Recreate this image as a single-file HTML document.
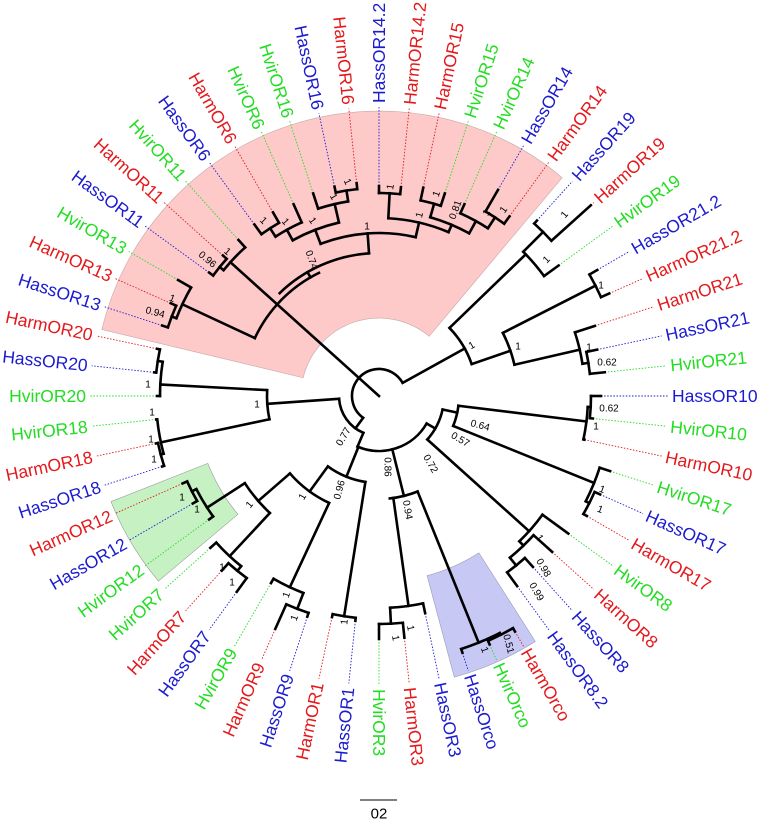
<!DOCTYPE html>
<html><head><meta charset="utf-8"><style>
html,body{margin:0;padding:0;background:#fff;}
svg{display:block;}
.b line,.b circle{stroke:#000;stroke-width:2.6;fill:none;stroke-linecap:square;}
.d line{stroke-width:0.9;stroke-dasharray:1.5 1.6;}
.lab text{font-family:"Liberation Sans",Arial,sans-serif;font-size:17.5px;dominant-baseline:central;}
.r{fill:#e3191c;} .u{fill:#1b1bd0;} .g{fill:#22dd22;}
.s text{font-family:"Liberation Sans",Arial,sans-serif;font-size:10px;fill:#000;text-anchor:middle;dominant-baseline:central;}
</style></head><body>
<svg width="763" height="822" viewBox="0 0 763 822" xmlns="http://www.w3.org/2000/svg">
<g transform="translate(379 396)">
<!-- shaded sectors -->
<path d="M -277.1,-66.5 A285 285 0 0 1 183.2,-218.3 L 50.1,-59.7 A78 78 0 0 0 -75.8,-18.2 Z" fill="#fdc9c9" stroke="#c8a8a8" stroke-width="0.6"/>
<path d="M -141,118.3 L-220.6,185.1 A288 288 0 0 1 -268,105.6 L-171.2,67.4 A184 184 0 0 0 -141,118.3 Z" fill="#c6f2c3" stroke="#9a9a9a" stroke-width="0.6"/>
<path d="M 99.9,156.9 L156.3,245.4 A291 291 0 0 1 75.3,281.1 L48.1,179.7 A186 186 0 0 0 99.9,156.9 Z" fill="#c8c8f5" stroke="#9a9ab8" stroke-width="0.6"/>

<!-- dotted leader lines -->
<g class="d">
<line x1="222" x2="289" transform="rotate(180)" stroke="#22dd22"/>
<line x1="226" x2="289" transform="rotate(186)" stroke="#1b1bd0"/>
<line x1="227" x2="289" transform="rotate(192)" stroke="#e3191c"/>
<line x1="228" x2="289" transform="rotate(198)" stroke="#1b1bd0"/>
<line x1="228" x2="289" transform="rotate(204)" stroke="#e3191c"/>
<line x1="232" x2="289" transform="rotate(210)" stroke="#22dd22"/>
<line x1="210" x2="289" transform="rotate(216)" stroke="#1b1bd0"/>
<line x1="210" x2="289" transform="rotate(222)" stroke="#e3191c"/>
<line x1="210" x2="289" transform="rotate(228)" stroke="#22dd22"/>
<line x1="212" x2="289" transform="rotate(234)" stroke="#1b1bd0"/>
<line x1="212" x2="289" transform="rotate(240)" stroke="#e3191c"/>
<line x1="210" x2="289" transform="rotate(246)" stroke="#22dd22"/>
<line x1="213" x2="289" transform="rotate(252)" stroke="#22dd22"/>
<line x1="214" x2="289" transform="rotate(258)" stroke="#1b1bd0"/>
<line x1="214" x2="289" transform="rotate(264)" stroke="#e3191c"/>
<line x1="210" x2="289" transform="rotate(270)" stroke="#1b1bd0"/>
<line x1="210" x2="289" transform="rotate(276)" stroke="#e3191c"/>
<line x1="213" x2="289" transform="rotate(282)" stroke="#e3191c"/>
<line x1="213" x2="289" transform="rotate(288)" stroke="#22dd22"/>
<line x1="210" x2="289" transform="rotate(294)" stroke="#22dd22"/>
<line x1="238" x2="289" transform="rotate(300)" stroke="#1b1bd0"/>
<line x1="222" x2="289" transform="rotate(306)" stroke="#e3191c"/>
<line x1="236" x2="289" transform="rotate(312)" stroke="#1b1bd0"/>
<line x1="285" x2="289" transform="rotate(318)" stroke="#e3191c"/>
<line x1="222" x2="289" transform="rotate(324)" stroke="#22dd22"/>
<line x1="252" x2="289" transform="rotate(330)" stroke="#1b1bd0"/>
<line x1="252" x2="289" transform="rotate(336)" stroke="#e3191c"/>
<line x1="227" x2="289" transform="rotate(342)" stroke="#e3191c"/>
<line x1="223" x2="289" transform="rotate(348)" stroke="#1b1bd0"/>
<line x1="227" x2="289" transform="rotate(354)" stroke="#22dd22"/>
<line x1="222" x2="289" transform="rotate(0)" stroke="#1b1bd0"/>
<line x1="215" x2="289" transform="rotate(6)" stroke="#22dd22"/>
<line x1="210" x2="289" transform="rotate(12)" stroke="#e3191c"/>
<line x1="243" x2="289" transform="rotate(18)" stroke="#22dd22"/>
<line x1="242" x2="289" transform="rotate(24)" stroke="#1b1bd0"/>
<line x1="240" x2="289" transform="rotate(30)" stroke="#e3191c"/>
<line x1="234" x2="289" transform="rotate(36)" stroke="#22dd22"/>
<line x1="233" x2="289" transform="rotate(42)" stroke="#e3191c"/>
<line x1="230" x2="289" transform="rotate(48)" stroke="#1b1bd0"/>
<line x1="235" x2="289" transform="rotate(54)" stroke="#1b1bd0"/>
<line x1="272" x2="289" transform="rotate(60)" stroke="#e3191c"/>
<line x1="272" x2="289" transform="rotate(66)" stroke="#22dd22"/>
<line x1="270" x2="289" transform="rotate(72)" stroke="#1b1bd0"/>
<line x1="222" x2="289" transform="rotate(78)" stroke="#1b1bd0"/>
<line x1="243" x2="289" transform="rotate(84)" stroke="#e3191c"/>
<line x1="243" x2="289" transform="rotate(90)" stroke="#22dd22"/>
<line x1="226" x2="289" transform="rotate(96)" stroke="#1b1bd0"/>
<line x1="226" x2="289" transform="rotate(102)" stroke="#e3191c"/>
<line x1="232" x2="289" transform="rotate(108)" stroke="#1b1bd0"/>
<line x1="255" x2="289" transform="rotate(114)" stroke="#e3191c"/>
<line x1="216" x2="289" transform="rotate(120)" stroke="#22dd22"/>
<line x1="242" x2="289" transform="rotate(126)" stroke="#1b1bd0"/>
<line x1="235" x2="289" transform="rotate(132)" stroke="#e3191c"/>
<line x1="227" x2="289" transform="rotate(138)" stroke="#22dd22"/>
<line x1="210" x2="289" transform="rotate(144)" stroke="#22dd22"/>
<line x1="215" x2="289" transform="rotate(150)" stroke="#1b1bd0"/>
<line x1="215" x2="289" transform="rotate(156)" stroke="#e3191c"/>
<line x1="228" x2="289" transform="rotate(162)" stroke="#1b1bd0"/>
<line x1="228" x2="289" transform="rotate(168)" stroke="#e3191c"/>
<line x1="224" x2="289" transform="rotate(174)" stroke="#22dd22"/>
</g>

<!-- branches -->
<g class="b">
<!-- root -->
<circle r="27" pathLength="360" stroke-dasharray="205 400" transform="rotate(126)"/>
<line x1="0" x2="200" transform="rotate(222)"/>
<!-- pink clade -->
<circle r="137" pathLength="360" stroke-dasharray="39 400" transform="rotate(205)"/>
<circle r="143" pathLength="360" stroke-dasharray="40 400" transform="rotate(226)"/>
<line x1="137" x2="143" transform="rotate(240)"/>
<line x1="137" x2="217" transform="rotate(205)"/>
<circle r="217" pathLength="360" stroke-dasharray="9 400" transform="rotate(201)"/>
<line x1="217" x2="232" transform="rotate(210)"/>
<line x1="217" x2="222" transform="rotate(201)"/>
<circle r="222" pathLength="360" stroke-dasharray="6 400" transform="rotate(198)"/>
<line x1="222" x2="228" transform="rotate(198)"/>
<line x1="222" x2="228" transform="rotate(204)"/>
<circle r="200" pathLength="360" stroke-dasharray="9 400" transform="rotate(219)"/>
<line x1="200" x2="210" transform="rotate(228)"/>
<line x1="200" x2="205" transform="rotate(219)"/>
<circle r="205" pathLength="360" stroke-dasharray="6 400" transform="rotate(216)"/>
<line x1="205" x2="210" transform="rotate(216)"/>
<line x1="205" x2="210" transform="rotate(222)"/>
<line x1="143" x2="163" transform="rotate(266)"/>
<circle r="163" pathLength="360" stroke-dasharray="34 400" transform="rotate(249)"/>
<line x1="163" x2="178" transform="rotate(249)"/>
<circle r="178" pathLength="360" stroke-dasharray="16 400" transform="rotate(241)"/>
<line x1="178" x2="197" transform="rotate(257)"/>
<circle r="197" pathLength="360" stroke-dasharray="9 400" transform="rotate(252)"/>
<line x1="197" x2="213" transform="rotate(252)"/>
<line x1="197" x2="208" transform="rotate(261)"/>
<circle r="208" pathLength="360" stroke-dasharray="6 400" transform="rotate(258)"/>
<line x1="208" x2="214" transform="rotate(258)"/>
<line x1="208" x2="214" transform="rotate(264)"/>
<line x1="178" x2="190" transform="rotate(241)"/>
<circle r="190" pathLength="360" stroke-dasharray="9 400" transform="rotate(237)"/>
<line x1="190" x2="210" transform="rotate(246)"/>
<line x1="190" x2="200" transform="rotate(237)"/>
<circle r="200" pathLength="360" stroke-dasharray="6 400" transform="rotate(234)"/>
<line x1="200" x2="212" transform="rotate(234)"/>
<line x1="200" x2="212" transform="rotate(240)"/>
<line x1="163" x2="178" transform="rotate(283)"/>
<circle r="178" pathLength="360" stroke-dasharray="20 400" transform="rotate(273)"/>
<line x1="178" x2="203" transform="rotate(273)"/>
<circle r="203" pathLength="360" stroke-dasharray="6 400" transform="rotate(270)"/>
<line x1="203" x2="210" transform="rotate(270)"/>
<line x1="203" x2="210" transform="rotate(276)"/>
<line x1="178" x2="186" transform="rotate(293)"/>
<circle r="186" pathLength="360" stroke-dasharray="13 400" transform="rotate(286)"/>
<line x1="186" x2="200" transform="rotate(286)"/>
<circle r="200" pathLength="360" stroke-dasharray="6 400" transform="rotate(282)"/>
<line x1="200" x2="213" transform="rotate(282)"/>
<line x1="200" x2="213" transform="rotate(288)"/>
<line x1="186" x2="200" transform="rotate(299)"/>
<circle r="200" pathLength="360" stroke-dasharray="9 400" transform="rotate(294)"/>
<line x1="200" x2="210" transform="rotate(294)"/>
<line x1="200" x2="213" transform="rotate(303)"/>
<circle r="213" pathLength="360" stroke-dasharray="6 400" transform="rotate(300)"/>
<line x1="213" x2="238" transform="rotate(300)"/>
<line x1="213" x2="222" transform="rotate(306)"/>
<!-- OR19 / OR21 -->
<line x1="27" x2="98" transform="rotate(331)"/>
<circle r="98" pathLength="360" stroke-dasharray="25 400" transform="rotate(316)"/>
<line x1="98" x2="204" transform="rotate(316)"/>
<circle r="204" pathLength="360" stroke-dasharray="9 400" transform="rotate(315)"/>
<line x1="204" x2="222" transform="rotate(324)"/>
<line x1="204" x2="232" transform="rotate(315)"/>
<circle r="232" pathLength="360" stroke-dasharray="6 400" transform="rotate(312)"/>
<line x1="232" x2="236" transform="rotate(312)"/>
<line x1="232" x2="285" transform="rotate(318)"/>
<line x1="98" x2="139" transform="rotate(341)"/>
<circle r="139" pathLength="360" stroke-dasharray="14 400" transform="rotate(333)"/>
<line x1="139" x2="243" transform="rotate(333)"/>
<circle r="243" pathLength="360" stroke-dasharray="6 400" transform="rotate(330)"/>
<line x1="243" x2="252" transform="rotate(330)"/>
<line x1="243" x2="252" transform="rotate(336)"/>
<line x1="139" x2="206" transform="rotate(347)"/>
<circle r="206" pathLength="360" stroke-dasharray="9 400" transform="rotate(342)"/>
<line x1="206" x2="227" transform="rotate(342)"/>
<line x1="206" x2="212" transform="rotate(351)"/>
<circle r="212" pathLength="360" stroke-dasharray="6 400" transform="rotate(348)"/>
<line x1="212" x2="223" transform="rotate(348)"/>
<line x1="212" x2="227" transform="rotate(354)"/>
<!-- 0.77 node -->
<line x1="27" x2="40" transform="rotate(126)"/>
<circle r="40" pathLength="360" stroke-dasharray="63 400" transform="rotate(113)"/>
<line x1="40" x2="112" transform="rotate(176)"/>
<circle r="112" pathLength="360" stroke-dasharray="15 400" transform="rotate(168)"/>
<line x1="112" x2="219" transform="rotate(183)"/>
<circle r="219" pathLength="360" stroke-dasharray="9 400" transform="rotate(180)"/>
<line x1="219" x2="222" transform="rotate(180)"/>
<line x1="219" x2="224" transform="rotate(189)"/>
<circle r="224" pathLength="360" stroke-dasharray="6 400" transform="rotate(186)"/>
<line x1="224" x2="226" transform="rotate(186)"/>
<line x1="224" x2="227" transform="rotate(192)"/>
<line x1="112" x2="223" transform="rotate(168)"/>
<circle r="223" pathLength="360" stroke-dasharray="9 400" transform="rotate(165)"/>
<line x1="223" x2="224" transform="rotate(174)"/>
<line x1="223" x2="226" transform="rotate(165)"/>
<circle r="226" pathLength="360" stroke-dasharray="6 400" transform="rotate(162)"/>
<line x1="226" x2="228" transform="rotate(162)"/>
<line x1="226" x2="228" transform="rotate(168)"/>
<!-- 0.86 node -->
<line x1="40" x2="55" transform="rotate(113)"/>
<circle r="55" pathLength="360" stroke-dasharray="83 400" transform="rotate(30)"/>
<line x1="55" x2="87" transform="rotate(112)"/>
<circle r="87" pathLength="360" stroke-dasharray="27 400" transform="rotate(99)"/>
<line x1="87" x2="223" transform="rotate(99)"/>
<circle r="223" pathLength="360" stroke-dasharray="6 400" transform="rotate(96)"/>
<line x1="223" x2="226" transform="rotate(96)"/>
<line x1="223" x2="226" transform="rotate(102)"/>
<line x1="87" x2="118" transform="rotate(126)"/>
<circle r="118" pathLength="360" stroke-dasharray="24 400" transform="rotate(115)"/>
<line x1="118" x2="211" transform="rotate(115)"/>
<circle r="211" pathLength="360" stroke-dasharray="9 400" transform="rotate(111)"/>
<line x1="211" x2="216" transform="rotate(120)"/>
<line x1="211" x2="228" transform="rotate(111)"/>
<circle r="228" pathLength="360" stroke-dasharray="6 400" transform="rotate(108)"/>
<line x1="228" x2="232" transform="rotate(108)"/>
<line x1="228" x2="255" transform="rotate(114)"/>
<line x1="118" x2="160" transform="rotate(139)"/>
<circle r="160" pathLength="360" stroke-dasharray="14 400" transform="rotate(133)"/>
<line x1="160" x2="205" transform="rotate(147)"/>
<circle r="205" pathLength="360" stroke-dasharray="9 400" transform="rotate(144)"/>
<line x1="205" x2="210" transform="rotate(144)"/>
<line x1="205" x2="210" transform="rotate(153)"/>
<circle r="210" pathLength="360" stroke-dasharray="6 400" transform="rotate(150)"/>
<line x1="210" x2="215" transform="rotate(150)"/>
<line x1="210" x2="215" transform="rotate(156)"/>
<line x1="160" x2="219" transform="rotate(133)"/>
<circle r="219" pathLength="360" stroke-dasharray="9 400" transform="rotate(129)"/>
<line x1="219" x2="227" transform="rotate(138)"/>
<line x1="219" x2="225" transform="rotate(129)"/>
<circle r="225" pathLength="360" stroke-dasharray="6 400" transform="rotate(126)"/>
<line x1="225" x2="242" transform="rotate(126)"/>
<line x1="225" x2="235" transform="rotate(132)"/>
<!-- 0.94 node -->
<line x1="55" x2="103" transform="rotate(76)"/>
<circle r="103" pathLength="360" stroke-dasharray="16 400" transform="rotate(68)"/>
<line x1="103" x2="212" transform="rotate(82)"/>
<circle r="212" pathLength="360" stroke-dasharray="9 400" transform="rotate(78)"/>
<line x1="212" x2="222" transform="rotate(78)"/>
<line x1="212" x2="228" transform="rotate(87)"/>
<circle r="228" pathLength="360" stroke-dasharray="6 400" transform="rotate(84)"/>
<line x1="228" x2="243" transform="rotate(84)"/>
<line x1="228" x2="243" transform="rotate(90)"/>
<line x1="103" x2="266" transform="rotate(68)"/>
<circle r="266" pathLength="360" stroke-dasharray="9 400" transform="rotate(63)"/>
<line x1="266" x2="270" transform="rotate(72)"/>
<line x1="266" x2="268" transform="rotate(63)"/>
<circle r="268" pathLength="360" stroke-dasharray="6 400" transform="rotate(60)"/>
<line x1="268" x2="272" transform="rotate(60)"/>
<line x1="268" x2="272" transform="rotate(66)"/>
<!-- 0.72 node -->
<line x1="55" x2="65" transform="rotate(30)"/>
<circle r="65" pathLength="360" stroke-dasharray="30 400" transform="rotate(12)"/>
<line x1="65" x2="202" transform="rotate(42)"/>
<circle r="202" pathLength="360" stroke-dasharray="10 400" transform="rotate(36)"/>
<line x1="202" x2="234" transform="rotate(36)"/>
<line x1="202" x2="208" transform="rotate(46)"/>
<circle r="208" pathLength="360" stroke-dasharray="9 400" transform="rotate(42)"/>
<line x1="208" x2="233" transform="rotate(42)"/>
<line x1="208" x2="218" transform="rotate(51)"/>
<circle r="218" pathLength="360" stroke-dasharray="6 400" transform="rotate(48)"/>
<line x1="218" x2="230" transform="rotate(48)"/>
<line x1="218" x2="235" transform="rotate(54)"/>
<line x1="65" x2="80" transform="rotate(12)"/>
<circle r="80" pathLength="360" stroke-dasharray="15 400" transform="rotate(7)"/>
<line x1="80" x2="232" transform="rotate(22)"/>
<circle r="232" pathLength="360" stroke-dasharray="9 400" transform="rotate(18)"/>
<line x1="232" x2="243" transform="rotate(18)"/>
<line x1="232" x2="236" transform="rotate(27)"/>
<circle r="236" pathLength="360" stroke-dasharray="6 400" transform="rotate(24)"/>
<line x1="236" x2="242" transform="rotate(24)"/>
<line x1="236" x2="240" transform="rotate(30)"/>
<line x1="80" x2="209" transform="rotate(7)"/>
<circle r="209" pathLength="360" stroke-dasharray="9 400" transform="rotate(3)"/>
<line x1="209" x2="210" transform="rotate(12)"/>
<line x1="209" x2="212" transform="rotate(3)"/>
<circle r="212" pathLength="360" stroke-dasharray="6 400" transform="rotate(0)"/>
<line x1="212" x2="222" transform="rotate(0)"/>
<line x1="212" x2="215" transform="rotate(6)"/>
</g>

<!-- leaf labels -->
<g class="lab">
<text class="g" transform="rotate(0)" x="-293" y="0" text-anchor="end">HvirOR20</text>
<text class="u" transform="rotate(6)" x="-293" y="0" text-anchor="end">HassOR20</text>
<text class="r" transform="rotate(12)" x="-293" y="0" text-anchor="end">HarmOR20</text>
<text class="u" transform="rotate(18)" x="-293" y="0" text-anchor="end">HassOR13</text>
<text class="r" transform="rotate(24)" x="-293" y="0" text-anchor="end">HarmOR13</text>
<text class="g" transform="rotate(30)" x="-293" y="0" text-anchor="end">HvirOR13</text>
<text class="u" transform="rotate(36)" x="-293" y="0" text-anchor="end">HassOR11</text>
<text class="r" transform="rotate(42)" x="-293" y="0" text-anchor="end">HarmOR11</text>
<text class="g" transform="rotate(48)" x="-293" y="0" text-anchor="end">HvirOR11</text>
<text class="u" transform="rotate(54)" x="-293" y="0" text-anchor="end">HassOR6</text>
<text class="r" transform="rotate(60)" x="-293" y="0" text-anchor="end">HarmOR6</text>
<text class="g" transform="rotate(66)" x="-293" y="0" text-anchor="end">HvirOR6</text>
<text class="g" transform="rotate(72)" x="-293" y="0" text-anchor="end">HvirOR16</text>
<text class="u" transform="rotate(78)" x="-293" y="0" text-anchor="end">HassOR16</text>
<text class="r" transform="rotate(84)" x="-293" y="0" text-anchor="end">HarmOR16</text>
<text class="u" transform="rotate(270)" x="293" y="0">HassOR14.2</text>
<text class="r" transform="rotate(276)" x="293" y="0">HarmOR14.2</text>
<text class="r" transform="rotate(282)" x="293" y="0">HarmOR15</text>
<text class="g" transform="rotate(288)" x="293" y="0">HvirOR15</text>
<text class="g" transform="rotate(294)" x="293" y="0">HvirOR14</text>
<text class="u" transform="rotate(300)" x="293" y="0">HassOR14</text>
<text class="r" transform="rotate(306)" x="293" y="0">HarmOR14</text>
<text class="u" transform="rotate(312)" x="293" y="0">HassOR19</text>
<text class="r" transform="rotate(318)" x="293" y="0">HarmOR19</text>
<text class="g" transform="rotate(324)" x="293" y="0">HvirOR19</text>
<text class="u" transform="rotate(330)" x="293" y="0">HassOR21.2</text>
<text class="r" transform="rotate(336)" x="293" y="0">HarmOR21.2</text>
<text class="r" transform="rotate(342)" x="293" y="0">HarmOR21</text>
<text class="u" transform="rotate(348)" x="293" y="0">HassOR21</text>
<text class="g" transform="rotate(354)" x="293" y="0">HvirOR21</text>
<text class="u" transform="rotate(0)" x="293" y="0">HassOR10</text>
<text class="g" transform="rotate(6)" x="293" y="0">HvirOR10</text>
<text class="r" transform="rotate(12)" x="293" y="0">HarmOR10</text>
<text class="g" transform="rotate(18)" x="293" y="0">HvirOR17</text>
<text class="u" transform="rotate(24)" x="293" y="0">HassOR17</text>
<text class="r" transform="rotate(30)" x="293" y="0">HarmOR17</text>
<text class="g" transform="rotate(36)" x="293" y="0">HvirOR8</text>
<text class="r" transform="rotate(42)" x="293" y="0">HarmOR8</text>
<text class="u" transform="rotate(48)" x="293" y="0">HassOR8</text>
<text class="u" transform="rotate(54)" x="293" y="0">HassOR8.2</text>
<text class="r" transform="rotate(60)" x="293" y="0">HarmOrco</text>
<text class="g" transform="rotate(66)" x="293" y="0">HvirOrco</text>
<text class="u" transform="rotate(72)" x="293" y="0">HassOrco</text>
<text class="u" transform="rotate(78)" x="293" y="0">HassOR3</text>
<text class="r" transform="rotate(84)" x="293" y="0">HarmOR3</text>
<text class="g" transform="rotate(90)" x="293" y="0">HvirOR3</text>
<text class="u" transform="rotate(-84)" x="-293" y="0" text-anchor="end">HassOR1</text>
<text class="r" transform="rotate(-78)" x="-293" y="0" text-anchor="end">HarmOR1</text>
<text class="u" transform="rotate(-72)" x="-293" y="0" text-anchor="end">HassOR9</text>
<text class="r" transform="rotate(-66)" x="-293" y="0" text-anchor="end">HarmOR9</text>
<text class="g" transform="rotate(-60)" x="-293" y="0" text-anchor="end">HvirOR9</text>
<text class="u" transform="rotate(-54)" x="-293" y="0" text-anchor="end">HassOR7</text>
<text class="r" transform="rotate(-48)" x="-293" y="0" text-anchor="end">HarmOR7</text>
<text class="g" transform="rotate(-42)" x="-293" y="0" text-anchor="end">HvirOR7</text>
<text class="g" transform="rotate(-36)" x="-293" y="0" text-anchor="end">HvirOR12</text>
<text class="u" transform="rotate(-30)" x="-293" y="0" text-anchor="end">HassOR12</text>
<text class="r" transform="rotate(-24)" x="-293" y="0" text-anchor="end">HarmOR12</text>
<text class="u" transform="rotate(-18)" x="-293" y="0" text-anchor="end">HassOR18</text>
<text class="r" transform="rotate(-12)" x="-293" y="0" text-anchor="end">HarmOR18</text>
<text class="g" transform="rotate(-6)" x="-293" y="0" text-anchor="end">HvirOR18</text>
</g>
</g>

<!-- support values -->
<g class="s">
<text x="207" y="260" transform="rotate(40 207 260)">0.96</text>
<text x="227" y="252" transform="rotate(40 227 252)">1</text>
<text x="155" y="313" transform="rotate(15 155 313)">0.94</text>
<text x="172" y="299" transform="rotate(20 172 299)">1</text>
<text x="311" y="260" transform="rotate(70 311 260)">0.74</text>
<text x="367" y="227">1</text>
<text x="263" y="221" transform="rotate(45 263 221)">1</text>
<text x="285" y="222" transform="rotate(50 285 222)">1</text>
<text x="312" y="221" transform="rotate(55 312 221)">1</text>
<text x="333" y="197" transform="rotate(60 333 197)">1</text>
<text x="347" y="182" transform="rotate(65 347 182)">1</text>
<text x="391" y="187" transform="rotate(-80 391 187)">1</text>
<text x="420" y="215" transform="rotate(-75 420 215)">1</text>
<text x="437" y="194" transform="rotate(-70 437 194)">1</text>
<text x="456" y="210" transform="rotate(-70 456 210)">0.81</text>
<text x="487" y="213" transform="rotate(-60 487 213)">1</text>
<text x="504" y="210" transform="rotate(-55 504 210)">1</text>
<text x="565" y="215" transform="rotate(-50 565 215)">1</text>
<text x="547" y="260" transform="rotate(-45 547 260)">1</text>
<text x="601" y="286">1</text>
<text x="472" y="346" transform="rotate(-30 472 346)">1</text>
<text x="518" y="347">1</text>
<text x="589" y="348">1</text>
<text x="607" y="363">0.62</text>
<text x="609" y="409">0.62</text>
<text x="596" y="427">1</text>
<text x="480" y="426" transform="rotate(15 480 426)">0.64</text>
<text x="460" y="440" transform="rotate(30 460 440)">0.57</text>
<text x="430" y="464" transform="rotate(60 430 464)">0.72</text>
<text x="387" y="467" transform="rotate(90 387 467)">0.86</text>
<text x="344" y="437" transform="rotate(-60 344 437)">0.77</text>
<text x="407" y="510" transform="rotate(80 407 510)">0.94</text>
<text x="340" y="490" transform="rotate(-75 340 490)">0.96</text>
<text x="303" y="497" transform="rotate(-60 303 497)">1</text>
<text x="250" y="505" transform="rotate(-50 250 505)">1</text>
<text x="182" y="498">1</text>
<text x="197" y="510">1</text>
<text x="222" y="568">1</text>
<text x="232" y="583">1</text>
<text x="287" y="595" transform="rotate(-70 287 595)">1</text>
<text x="295" y="618" transform="rotate(-70 295 618)">1</text>
<text x="345" y="622" transform="rotate(-85 345 622)">1</text>
<text x="395" y="638" transform="rotate(80 395 638)">1</text>
<text x="410" y="628" transform="rotate(80 410 628)">1</text>
<text x="484" y="650" transform="rotate(70 484 650)">1</text>
<text x="508" y="644" transform="rotate(75 508 644)">0.51</text>
<text x="539" y="538" transform="rotate(60 539 538)">1</text>
<text x="543" y="568" transform="rotate(60 543 568)">0.98</text>
<text x="536" y="592" transform="rotate(60 536 592)">0.99</text>
<text x="602" y="490" transform="rotate(20 602 490)">1</text>
<text x="600" y="510" transform="rotate(20 600 510)">1</text>
<text x="148" y="385">1</text>
<text x="152" y="413">1</text>
<text x="151" y="440">1</text>
<text x="154" y="460">1</text>
<text x="257" y="405">1</text>
</g>

<!-- scale bar -->
<line x1="360" y1="800" x2="397" y2="800" stroke="#000" stroke-width="1"/>
<text x="379" y="814" font-family="Liberation Sans, Arial, sans-serif" font-size="15" text-anchor="middle" dominant-baseline="central">02</text>
</svg>
</body></html>
